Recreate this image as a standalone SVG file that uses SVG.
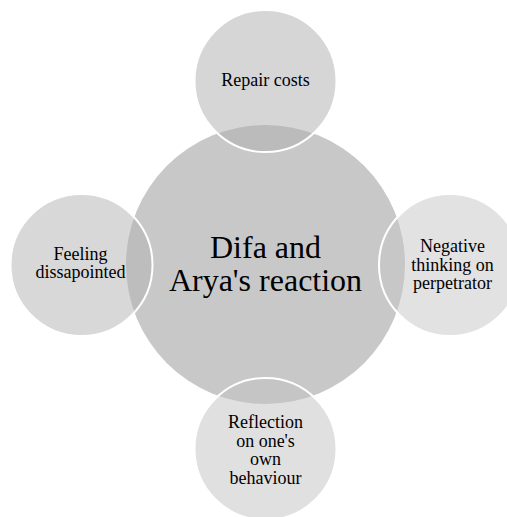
<svg xmlns="http://www.w3.org/2000/svg" width="507" height="517" viewBox="0 0 507 517">
<style>
text{font-family:"Liberation Serif","DejaVu Serif",serif;fill:#000;text-anchor:middle}
.sat{stroke:#fff;stroke-width:2}
.lbl{font-size:18px}
.main{font-size:32px}
</style>
<rect width="507" height="517" fill="#fff"/>
<g id="center">
<circle cx="265.5" cy="264.5" r="139.5" fill="#c8c8c8"/>
<text class="main" x="265.5" y="258">Difa and</text>
<text class="main" x="265.5" y="291">Arya's reaction</text>
</g>
<g id="top">
<circle class="sat" cx="265.5" cy="81" r="71" fill="#adadad" fill-opacity="0.5"/>
<text class="lbl" x="265.5" y="86">Repair costs</text>
</g>
<g id="right">
<circle class="sat" cx="450" cy="265" r="71" fill="#c5c5c5" fill-opacity="0.5"/>
<text class="lbl" x="452.5" y="251.5">Negative</text>
<text class="lbl" x="452.5" y="270.5">thinking on</text>
<text class="lbl" x="452.5" y="289">perpetrator</text>
</g>
<g id="bottom">
<circle class="sat" cx="265.5" cy="449" r="71" fill="#c1c1c1" fill-opacity="0.5"/>
<text class="lbl" x="265.5" y="428">Reflection</text>
<text class="lbl" x="265.5" y="446.5">on one's</text>
<text class="lbl" x="265.5" y="465">own</text>
<text class="lbl" x="265.5" y="483.5">behaviour</text>
</g>
<g id="left">
<circle class="sat" cx="81.5" cy="265" r="71" fill="#b1b1b1" fill-opacity="0.5"/>
<text class="lbl" x="80.5" y="259.5">Feeling</text>
<text class="lbl" x="80.5" y="278">dissapointed</text>
</g>
<g id="connectors"/>
</svg>
